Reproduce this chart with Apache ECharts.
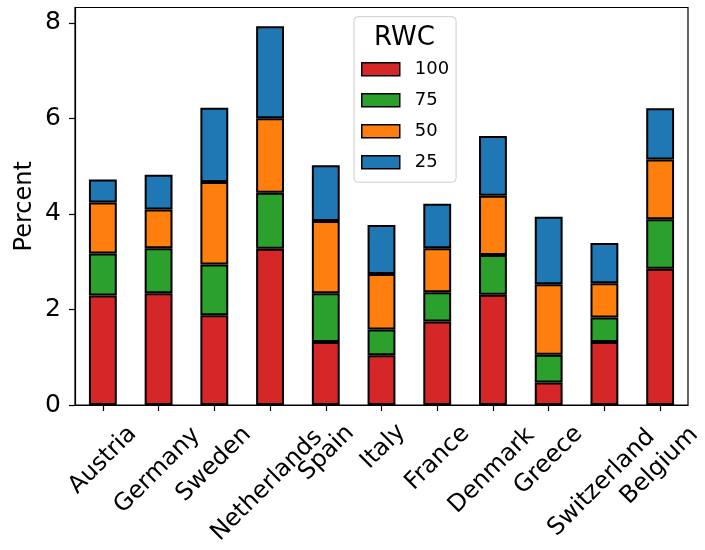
<!DOCTYPE html>
<html>
<head>
<meta charset="utf-8">
<script src="https://cdn.jsdelivr.net/npm/echarts@6/dist/echarts.min.js"></script>
<style>
  html, body { margin: 0; padding: 0; background: #fff; }
  #chart { width: 705px; height: 550px; }
</style>
</head>
<body>
<div id="chart"></div>
<script>
// Countries along the x axis
const countries = ['Austria', 'Germany', 'Sweden', 'Netherlands', 'Spain', 'Italy',
  'France', 'Denmark', 'Greece', 'Switzerland', 'Belgium'];

// Stacked shares (percent) for each RWC level
const rwc100 = [2.29, 2.34, 1.88, 3.27, 1.32, 1.04, 1.75, 2.31, 0.47, 1.32, 2.85];
const rwc75  = [0.88, 0.94, 1.06, 1.17, 1.02, 0.54, 0.61, 0.83, 0.58, 0.51, 1.04];
const rwc50  = [1.07, 0.81, 1.73, 1.56, 1.51, 1.16, 0.92, 1.24, 1.48, 0.72, 1.25];
const rwc25  = [0.48, 0.73, 1.55, 1.93, 1.17, 1.03, 0.93, 1.25, 1.41, 0.84, 1.07];

const levelNames = ['100', '75', '50', '25'];
const yTicks = [0, 2, 4, 6, 8];

const FONT = 'DejaVu Sans';
const LABEL_SIZE = 24;

// Category labels are rotated 45° and hang centred below their tick.
// ECharts right-aligns rotated labels at the anchor, so each label gets its
// own rich style whose padding moves the text block into place.
const SQ2 = Math.SQRT2;
const GAP = 9;             // space between axis and the rotated label block
const SPREAD = 1.16;       // how far the block centre drops per unit of size
const MARGIN = -38;        // anchor sits above the axis; padding pushes text down
const TEXT_H = LABEL_SIZE * 1.16;
const ctx = document.createElement('canvas').getContext('2d');
ctx.font = LABEL_SIZE + 'px "' + FONT + '"';
const labelRich = {};
countries.forEach(function (name, i) {
  const w = ctx.measureText(name).width;
  // wanted centre of the text, relative to the label anchor (screen px)
  const X = -0.05 * (w - 85);
  const Y = GAP + SPREAD * (w + TEXT_H) / (2 * SQ2) - MARGIN;
  // same offset in the label's rotated frame
  const a = (X - Y) / SQ2;
  const b = (X + Y) / SQ2;
  labelRich['c' + i] = {
    fontSize: LABEL_SIZE,
    fontFamily: FONT,
    color: '#000',
    padding: [Math.max(2 * b, 0), Math.max(-a - w / 2, 0), 0, 0]
  };
});

const colors = ['#d62728', '#2ca02c', '#ff7f0e', '#1f77b4'];
const values = [rwc100, rwc75, rwc50, rwc25];

const chart = echarts.init(document.getElementById('chart'), null, { renderer: 'canvas' });

chart.setOption({
  animation: false,
  textStyle: { fontFamily: FONT },
  title: {
    text: 'RWC',
    left: 404.5,
    top: 25,
    padding: 0,
    textAlign: 'center',
    z: 10,
    textStyle: { fontSize: 26, fontWeight: 'normal', color: '#000', fontFamily: FONT }
  },
  legend: {
    data: levelNames,
    orient: 'vertical',
    left: 354,
    top: 16.7,
    padding: [43.5, 7, 11, 7],
    itemWidth: 38,
    itemHeight: 13,
    itemGap: 13,
    icon: 'rect',
    selectedMode: false,
    backgroundColor: 'rgba(255,255,255,0.85)',
    borderColor: '#cccccc',
    borderWidth: 1,
    borderRadius: 4,
    z: 9,
    itemStyle: { borderColor: '#000', borderWidth: 1.5 },
    textStyle: { fontSize: 18, color: '#000', fontFamily: FONT, lineHeight: 13, padding: [0, 0, 0, 10] }
  },
  grid: {
    left: 75,
    right: 17,
    top: 7.5,
    bottom: 145,
    show: true,
    borderColor: '#000',
    borderWidth: 1.2,
    outerBoundsMode: 'none'
  },
  xAxis: {
    type: 'category',
    data: countries,
    axisLine: { show: true, lineStyle: { color: '#000', width: 1.2 } },
    axisTick: { show: true, alignWithLabel: true, length: 6, lineStyle: { color: '#000', width: 1.2 } },
    axisLabel: {
      interval: 0,
      rotate: 45,
      margin: MARGIN,
      fontSize: LABEL_SIZE,
      color: '#000',
      fontFamily: FONT,
      formatter: function (value, index) {
        return '{c' + index + '|' + value + '}';
      },
      rich: labelRich
    },
    splitLine: { show: false }
  },
  yAxis: {
    type: 'value',
    min: 0,
    max: 8.32,
    interval: 2,
    name: 'Percent',
    nameLocation: 'middle',
    nameGap: 38,
    nameMoveOverlap: false,
    nameRotate: 90,
    nameTextStyle: { fontSize: 24, color: '#000', fontFamily: FONT },
    axisLine: { show: true, lineStyle: { color: '#000', width: 1.2 } },
    axisTick: { show: true, length: 6, customValues: yTicks, lineStyle: { color: '#000', width: 1.2 } },
    axisLabel: { fontSize: 25, color: '#000', margin: 14, customValues: yTicks, fontFamily: FONT },
    splitLine: { show: false }
  },
  series: levelNames.map(function (name, i) {
    return {
      name: name,
      type: 'bar',
      stack: 'rwc',
      barWidth: '50%',
      data: values[i],
      itemStyle: { color: colors[i], borderColor: '#000', borderWidth: 2 }
    };
  })
});
</script>
</body>
</html>
